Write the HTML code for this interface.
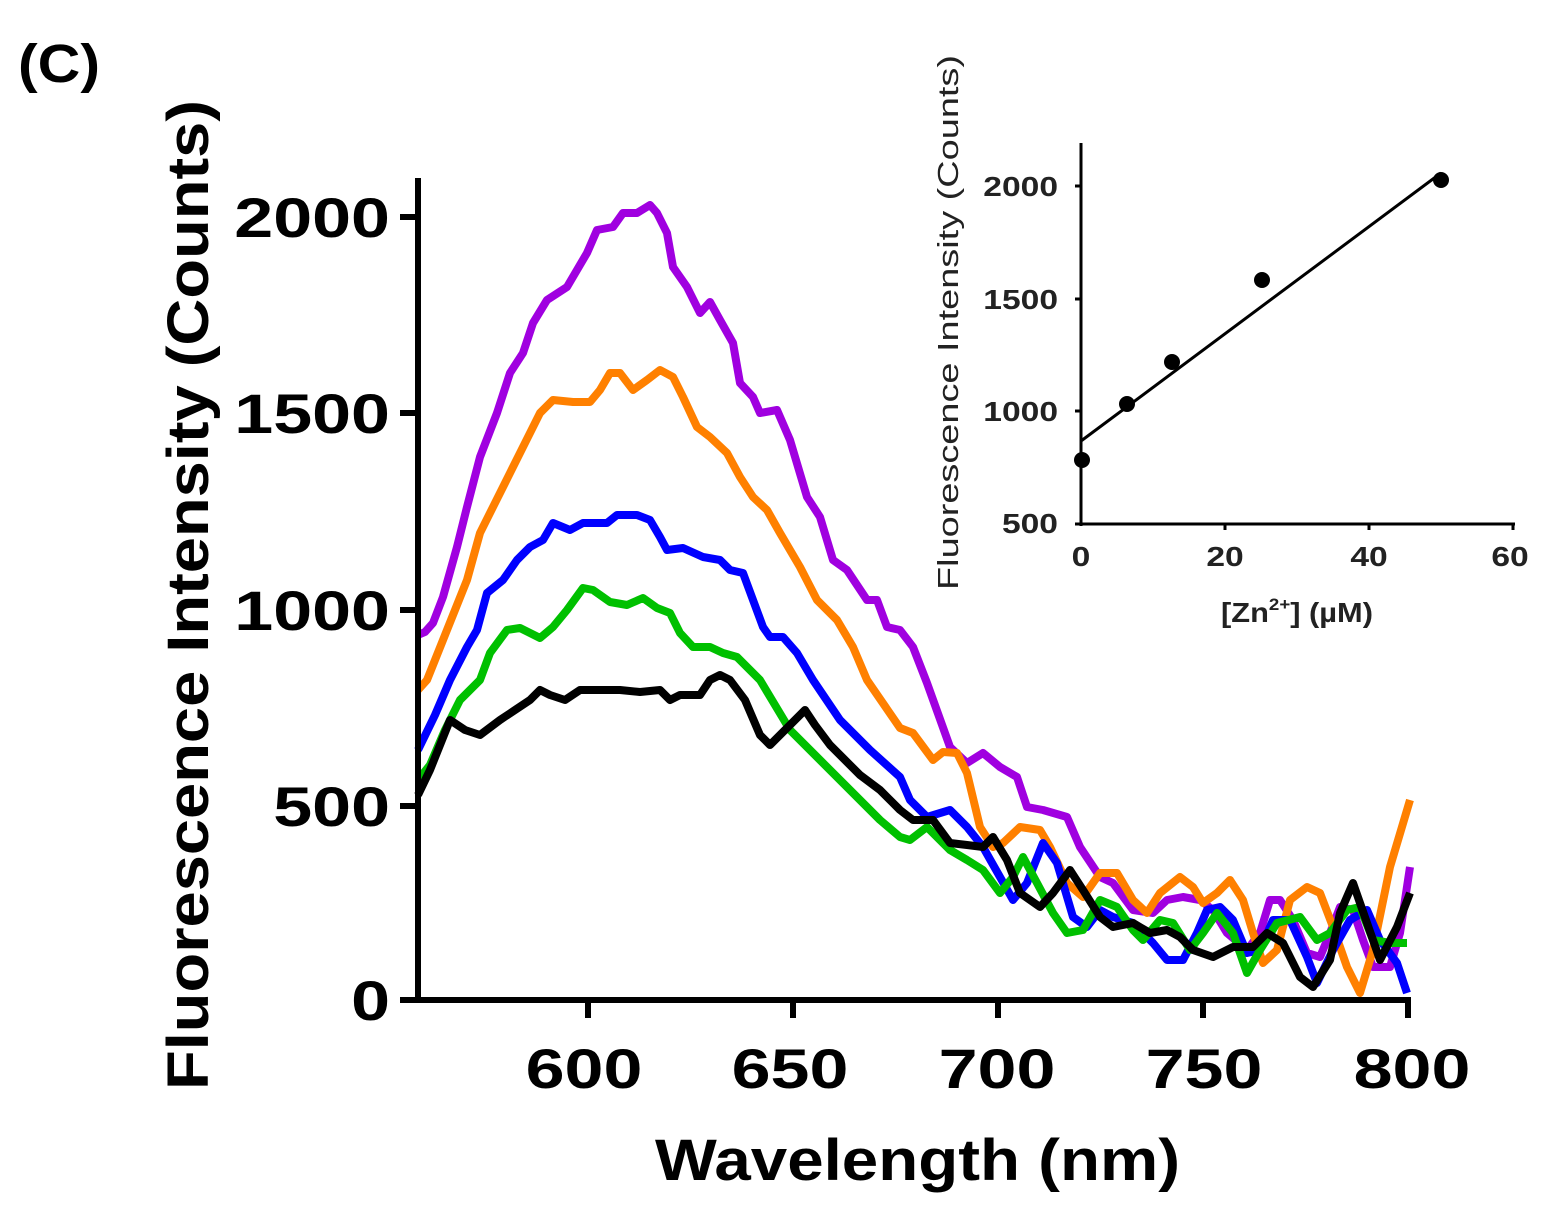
<!DOCTYPE html>
<html><head><style>body{margin:0;background:#fff}svg{display:block}</style></head><body>
<svg width="1550" height="1214" xmlns="http://www.w3.org/2000/svg" font-family="Liberation Sans, sans-serif">
<text x="18" y="82" font-size="54" font-weight="bold" textLength="82" lengthAdjust="spacingAndGlyphs">(C)</text>
<g fill="none" stroke-width="8" stroke-linejoin="round">
<polyline stroke="#a000e0" points="418,635 425,632 433,623 443,597 457,547 467,507 480,457 497,413 510,373 523,353 533,323 547,300 567,287 577,270 587,253 597,230 613,227 623,213 637,213 650,205 657,213 667,233 673,267 687,287 700,313 710,302 720,320 733,343 740,383 753,397 760,413 777,410 790,440 807,497 820,517 833,560 847,570 867,600 877,600 887,627 900,630 913,647 927,683 950,747 967,763 983,753 1000,767 1017,777 1027,807 1043,810 1067,817 1080,847 1100,877 1113,883 1133,910 1153,913 1167,900 1183,897 1200,900 1213,910 1227,933 1247,950 1260,933 1270,900 1280,900 1293,920 1307,953 1320,957 1330,933 1340,907 1353,910 1363,940 1373,967 1390,967 1400,933 1410,867"/>
<polyline stroke="#ff8000" points="418,690 427,680 443,640 467,580 480,533 493,507 510,473 530,433 540,413 553,400 573,402 590,402 600,390 610,373 620,373 633,390 647,380 660,370 673,377 683,397 697,427 710,437 727,453 740,477 753,497 767,510 780,533 800,567 817,600 837,620 853,647 867,680 900,728 913,733 933,760 943,752 957,753 967,773 980,827 993,847 1003,843 1020,827 1040,830 1050,847 1067,883 1083,897 1100,873 1117,873 1133,900 1147,913 1160,893 1180,877 1193,887 1203,903 1217,893 1230,880 1243,900 1253,933 1263,963 1277,950 1290,900 1307,887 1320,893 1333,927 1347,967 1360,993 1373,950 1390,867 1410,800"/>
<polyline stroke="#0000ff" points="418,750 435,715 450,680 467,647 477,630 487,593 503,580 517,560 530,547 543,540 553,523 570,530 583,523 607,523 617,515 637,515 650,520 660,537 667,550 683,548 703,557 720,560 730,570 743,573 753,600 763,627 770,637 783,637 797,653 813,680 840,720 870,750 900,777 910,800 927,817 950,810 967,827 983,847 1000,877 1013,900 1027,883 1043,843 1057,863 1073,917 1087,927 1100,910 1113,917 1133,923 1153,943 1167,960 1183,960 1197,933 1207,910 1220,907 1233,920 1247,953 1260,950 1273,920 1290,920 1307,957 1317,983 1333,950 1350,920 1367,910 1380,940 1397,963 1407,993"/>
<polyline stroke="#00c000" points="418,780 430,765 445,730 460,700 480,680 490,653 507,630 520,628 540,638 553,627 567,610 583,588 593,590 610,602 627,605 643,598 657,608 670,613 680,633 693,647 710,647 723,653 737,657 760,680 790,730 820,760 850,790 880,820 900,837 910,840 927,827 950,850 967,860 983,870 1000,893 1013,877 1023,857 1037,883 1053,913 1067,933 1083,930 1100,900 1117,907 1133,930 1143,940 1160,920 1173,923 1190,950 1203,933 1217,913 1233,933 1247,973 1260,950 1277,923 1300,917 1317,940 1330,933 1347,910 1360,907 1373,940 1390,943 1407,943"/>
<polyline stroke="#000" points="418,795 430,770 440,745 450,720 465,730 480,735 500,720 515,710 530,700 540,690 550,695 565,700 580,690 600,690 620,690 640,692 660,690 670,700 680,695 700,695 710,680 720,675 730,680 745,700 760,735 770,745 780,735 795,720 805,710 815,725 830,745 845,760 860,775 880,790 900,810 913,820 933,820 950,843 967,845 983,847 993,837 1007,860 1020,893 1040,907 1053,893 1070,870 1083,890 1100,917 1113,927 1133,923 1150,933 1167,930 1180,937 1193,950 1213,957 1233,947 1253,947 1267,933 1283,943 1300,977 1313,987 1330,960 1340,913 1353,883 1367,923 1380,960 1397,927 1410,893"/>
</g>
<g stroke="#000" stroke-width="6" fill="none">
<line x1="418" y1="178" x2="418" y2="1002"/>
<line x1="400" y1="1000" x2="1411" y2="1000"/>
<line x1="400" y1="217" x2="418" y2="217"/><line x1="400" y1="413" x2="418" y2="413"/><line x1="400" y1="610" x2="418" y2="610"/><line x1="400" y1="806" x2="418" y2="806"/>
<line x1="588" y1="1000" x2="588" y2="1018"/><line x1="793" y1="1000" x2="793" y2="1018"/><line x1="998" y1="1000" x2="998" y2="1018"/><line x1="1203" y1="1000" x2="1203" y2="1018"/><line x1="1408" y1="1000" x2="1408" y2="1018"/>
</g>
<g font-size="56" font-weight="bold" text-anchor="end">
<text transform="translate(390,237) scale(1.25,1)">2000</text>
<text transform="translate(390,433) scale(1.25,1)">1500</text>
<text transform="translate(390,630) scale(1.25,1)">1000</text>
<text transform="translate(390,826) scale(1.25,1)">500</text>
<text transform="translate(390,1020) scale(1.25,1)">0</text>
</g>
<g font-size="56" font-weight="bold" text-anchor="middle">
<text transform="translate(584,1088) scale(1.25,1)">600</text>
<text transform="translate(790,1088) scale(1.25,1)">650</text>
<text transform="translate(997,1088) scale(1.25,1)">700</text>
<text transform="translate(1204,1088) scale(1.25,1)">750</text>
<text transform="translate(1412,1088) scale(1.25,1)">800</text>
</g>
<text x="655" y="1180" font-size="58" font-weight="bold" textLength="525" lengthAdjust="spacingAndGlyphs">Wavelength (nm)</text>
<text transform="translate(208,1090) rotate(-90)" font-size="58" font-weight="bold" textLength="990" lengthAdjust="spacingAndGlyphs">Fluorescence Intensity (Counts)</text>
<!-- inset -->
<g stroke="#000" stroke-width="3" fill="none">
<line x1="1081" y1="143" x2="1081" y2="526"/>
<line x1="1075" y1="524" x2="1515" y2="524"/>
<line x1="1075" y1="186" x2="1081" y2="186"/><line x1="1075" y1="299" x2="1081" y2="299"/><line x1="1075" y1="411" x2="1081" y2="411"/>
<line x1="1225" y1="524" x2="1225" y2="530"/><line x1="1369" y1="524" x2="1369" y2="530"/><line x1="1513" y1="524" x2="1513" y2="530"/>
<line x1="1081" y1="441" x2="1441" y2="173" stroke-width="3"/>
</g>
<g fill="#000"><circle cx="1082" cy="460" r="8"/><circle cx="1127" cy="404" r="8"/><circle cx="1172" cy="362" r="8"/><circle cx="1262" cy="280" r="8"/><circle cx="1441" cy="180" r="8"/></g>
<g font-size="28" font-weight="bold" fill="#222" text-anchor="end">
<text transform="translate(1058,196) scale(1.2,1)">2000</text>
<text transform="translate(1058,309) scale(1.2,1)">1500</text>
<text transform="translate(1058,421) scale(1.2,1)">1000</text>
<text transform="translate(1058,533) scale(1.2,1)">500</text>
</g>
<g font-size="28" font-weight="bold" fill="#222" text-anchor="middle">
<text transform="translate(1081,566) scale(1.2,1)">0</text>
<text transform="translate(1225,566) scale(1.2,1)">20</text>
<text transform="translate(1369,566) scale(1.2,1)">40</text>
<text transform="translate(1510,566) scale(1.2,1)">60</text>
</g>
<text transform="translate(1297,622) scale(1.1,1)" text-anchor="middle" font-size="28" fill="#222" font-weight="bold">[Zn<tspan font-size="17" dy="-12">2+</tspan><tspan dy="12">] (µM)</tspan></text>
<text transform="translate(958,590) rotate(-90)" font-size="29" fill="#222" textLength="535" lengthAdjust="spacingAndGlyphs">Fluorescence Intensity (Counts)</text>
</svg>
</body></html>
